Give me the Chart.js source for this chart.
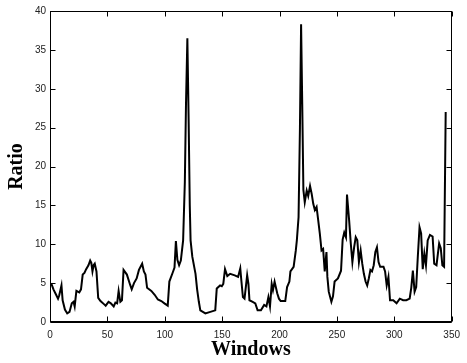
<!DOCTYPE html>
<html>
<head>
<meta charset="utf-8">
<script src="https://cdn.jsdelivr.net/npm/chart.js@4/dist/chart.umd.min.js"></script>
<style>
  html, body { margin: 0; padding: 0; background: #fff; }
</style>
</head>
<body>
<canvas id="graph" width="467" height="363"></canvas>
<script>
// window index (x) and ratio (y)
var windows = [1, 3, 5, 7, 8, 10, 11, 13, 15, 17, 19, 20.5, 21.5, 23, 25.5, 27, 28.5, 30, 31.5, 33.5,
  35, 36, 37, 38, 39, 40.5, 42, 44, 47, 48.5, 51, 53, 55.5, 57, 58.5, 59.8, 61.3, 62.7, 64.1, 67,
  69.8, 71.2, 73.2, 75.5, 77.5, 80.3, 81.8, 83.2, 84.6, 88.3, 91.2, 94, 97, 99.7, 102.6, 104, 106.8, 108.5, 109.7, 111,
  112.5, 114, 116, 117.5, 118.5, 119.7, 120.8, 121.8, 122.5, 124, 126.8, 128.2, 129.7, 131, 135.4, 139.7, 144, 145.3, 148.2, 149.7,
  151, 152.5, 154.5, 157, 161, 163.9, 165.8, 166.7, 168.1, 169.5, 171.8, 172.9, 173.8, 176.6, 178.9, 180.9, 183.8, 186.6, 188.6, 190.3,
  191.7, 193.2, 194.3, 195.7, 198, 199.5, 201, 205, 206.6, 208.6, 209.5, 212.3, 214.2, 215.1, 216.6, 217.8, 218.8, 219.8, 220.8, 222,
  223.7, 225, 226.6, 228, 229.4, 230.8, 232.3, 233.7, 235.1, 236.6, 238, 239.4, 240.9, 241.7, 242.9, 245.2, 246.6, 248, 250.9, 253.6,
  255, 256.4, 257.9, 258.8, 260.7, 262.1, 263.5, 265, 266.4, 267.8, 269.2, 270.7, 272.1, 273.5, 275, 276.4, 277.8, 279.2, 280.6, 282.1,
  283.5, 284.9, 286.3, 287.7, 290.6, 292, 293.4, 294.9, 296.3, 299.1, 302, 304.8, 307.7, 310.5, 313.4, 314.8, 316.2, 317.7, 319.1, 320.5,
  322, 323.4, 324.8, 326.2, 327.6, 329.1, 331.1, 333.4, 334.8, 336.8, 339.1, 340.5, 341.9, 343.4, 344.8];
var ratio = [5.0, 4.2, 3.6, 3.0, 3.4, 4.7, 2.8, 1.6, 1.1, 1.3, 2.4, 2.6, 2.0, 4.0, 3.8, 4.2, 6.1, 6.3, 6.8, 7.3,
  7.9, 7.6, 6.5, 7.3, 7.5, 6.5, 3.1, 2.7, 2.3, 2.1, 2.6, 2.4, 2.0, 2.5, 2.4, 4.0, 2.6, 2.8, 6.7, 6.1,
  4.8, 4.2, 5.0, 5.6, 6.7, 7.5, 6.5, 6.1, 4.4, 4.0, 3.5, 2.9, 2.7, 2.4, 2.1, 5.2, 6.3, 7.0, 10.4, 8.0,
  7.3, 7.9, 10.5, 18, 28, 36.5, 26, 15, 10.5, 8.4, 6.2, 4.2, 2.6, 1.5, 1.1, 1.3, 1.5, 4.3, 4.7, 4.6,
  4.9, 6.8, 5.9, 6.2, 6.0, 5.8, 6.9, 5.4, 3.2, 3.0, 6.0, 4.9, 2.8, 2.6, 2.4, 1.5, 1.5, 2.2, 2.0, 3.2,
  2.0, 4.9, 4.1, 5.2, 3.7, 3.0, 2.7, 2.7, 4.5, 5.2, 6.5, 7.1, 9.2, 10.5, 13.5, 25, 38.3, 28, 17, 15.4,
  16.9, 16.2, 17.5, 16.5, 15.2, 14.4, 14.8, 13.1, 11.4, 9.2, 9.4, 6.5, 9.0, 5.8, 3.9, 2.6, 3.3, 5.2, 5.6, 6.6,
  10.6, 11.5, 10.9, 16.4, 13.0, 10.1, 7.7, 9.6, 10.9, 10.5, 7.7, 9.2, 7.5, 6.2, 5.2, 4.7, 5.6, 6.7, 6.5, 7.3,
  9.0, 9.6, 7.7, 7.1, 7.1, 6.5, 4.7, 5.8, 2.8, 2.8, 2.4, 3.0, 2.8, 2.8, 3.0, 4.4, 6.6, 3.9, 4.5, 8.4,
  12.2, 11.4, 6.8, 8.8, 7.3, 10.5, 11.2, 11.0, 7.5, 7.3, 10.1, 9.5, 7.3, 7.1, 27.0];
var xTicks = [0, 50, 100, 150, 200, 250, 300, 350];
var yTicks = [0, 5, 10, 15, 20, 25, 30, 35, 40];

var points = windows.map(function(w, i) {
  return { x: w, y: ratio[i] };
});

// matlab style box with inward tick marks
var boxTicks = {
  id: "boxTicks",
  afterDraw: function(chart) {
    var ctx = chart.ctx;
    var a = chart.chartArea;
    var xs = chart.scales.x, ys = chart.scales.y;
    var l = Math.round(a.left) + 0.5, r = Math.round(a.right) - 0.5;
    var t = Math.round(a.top) + 0.5, b = Math.round(a.bottom) - 0.5;
    ctx.save();
    ctx.strokeStyle = "#000";
    ctx.lineWidth = 1;
    ctx.strokeRect(l, t, r - l, b - t);
    // bottom axis looks a bit heavier in the original
    ctx.beginPath();
    ctx.moveTo(l, b + 1); ctx.lineTo(r, b + 1);
    xTicks.forEach(function(v) {
      var px = Math.round(xs.getPixelForValue(v)) + 0.5;
      ctx.moveTo(px, b); ctx.lineTo(px, b - 5);
      ctx.moveTo(px, t); ctx.lineTo(px, t + 5);
    });
    yTicks.forEach(function(v) {
      var py = Math.round(ys.getPixelForValue(v)) + 0.5;
      ctx.moveTo(l, py); ctx.lineTo(l + 5, py);
      ctx.moveTo(r, py); ctx.lineTo(r - 5, py);
    });
    ctx.stroke();
    ctx.restore();
  }
};

var ctx = document.getElementById("graph").getContext("2d");
var chart = new Chart(ctx, {
  type: "line",
  data: {
    datasets: [{
      data: points,
      borderColor: "#000",
      borderWidth: 2,
      pointRadius: 0,
      tension: 0,
      fill: false
    }]
  },
  options: {
    responsive: false,
    animation: false,
    events: [],
    layout: { padding: { top: 11, right: 10, left: 0, bottom: 0 } },
    plugins: { legend: { display: false }, tooltip: { enabled: false } },
    scales: {
      x: {
        type: "linear",
        min: 0,
        max: 350,
        afterBuildTicks: function(scale) {
          scale.ticks = xTicks.map(function(v) { return { value: v }; });
        },
        afterFit: function(scale) { scale.height = 41; },
        grid: { display: false, drawTicks: false },
        border: { display: false },
        ticks: {
          autoSkip: false,
          maxRotation: 0,
          padding: 7,
          color: "#222",
          font: { family: "Liberation Sans", size: 10 }
        },
        title: {
          display: true,
          text: "Windows",
          color: "#000",
          padding: { top: 0, bottom: 1 },
          font: { family: "Liberation Serif", size: 20, weight: "bold" }
        }
      },
      y: {
        min: 0,
        max: 40,
        afterBuildTicks: function(scale) {
          scale.ticks = yTicks.map(function(v) { return { value: v }; });
        },
        afterFit: function(scale) { scale.width = 50; },
        grid: { display: false, drawTicks: false },
        border: { display: false },
        ticks: {
          autoSkip: false,
          padding: 4,
          color: "#222",
          font: { family: "Liberation Sans", size: 10 }
        },
        title: {
          display: true,
          text: "Ratio",
          color: "#000",
          padding: { top: 5, bottom: 0 },
          font: { family: "Liberation Serif", size: 20, weight: "bold" }
        }
      }
    }
  },
  plugins: [boxTicks]
});
</script>
</body>
</html>
